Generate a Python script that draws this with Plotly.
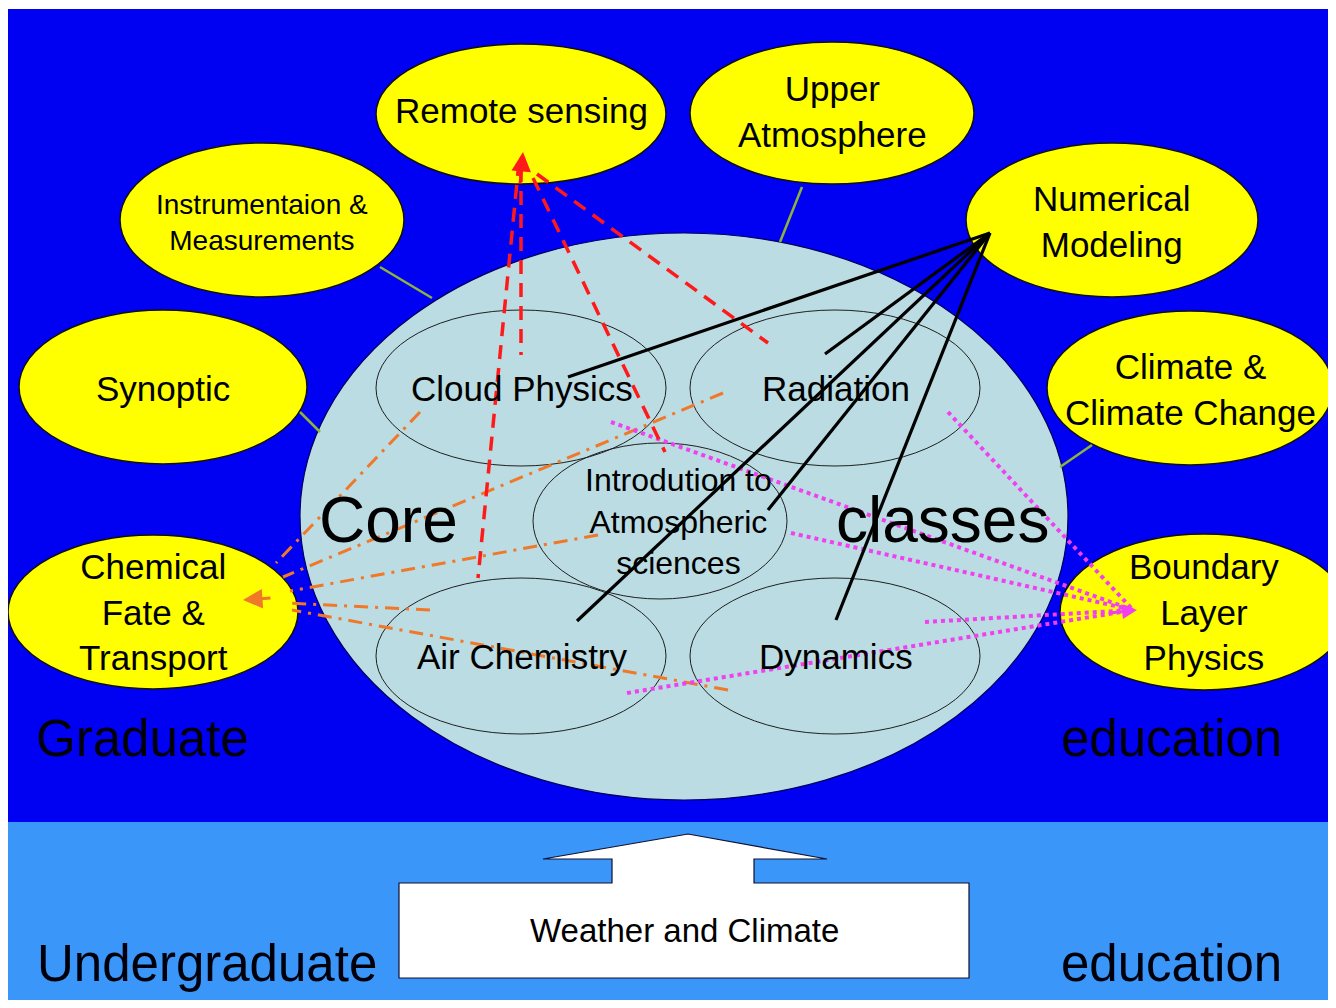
import plotly.graph_objects as go

# ---------------- data ----------------
outer_labels = ["Remote sensing", "Upper<br>Atmosphere", "Instrumentaion &<br>Measurements",
                "Numerical<br>Modeling", "Synoptic", "Climate &<br>Climate Change",
                "Chemical<br>Fate &<br>Transport", "Boundary<br>Layer<br>Physics"]
outer_cx = [521, 832, 262, 1112, 163, 1190, 153, 1204]
outer_cy = [114, 113, 220, 220, 387, 388, 612, 612]
outer_rx = [145, 142, 142, 146, 144, 143, 145, 144]
outer_ry = [70, 71, 77, 77, 77, 77, 77, 78]
outer_ty = [110, 111, 222, 221, 388, 389, 612, 612]
outer_fs = [35, 35, 28, 35, 35, 35, 35, 35]

inner_labels = ["Cloud Physics", "Radiation", "Introdution to<br>Atmospheric<br>sciences",
                "Air Chemistry", "Dynamics"]
inner_cx = [521, 835, 660, 521, 835]
inner_cy = [388, 388, 521, 656, 656]
inner_rx = [145, 145, 127, 145, 145]
inner_ry = [78, 78, 78, 78, 78]
inner_tx = [522, 836, 678, 522, 836]
inner_fs = [35, 35, 32, 35, 35]

# Numerical Modeling links (solid black)
black_x0, black_y0 = 990, 233
black_x1 = [568, 825, 768, 577, 836]
black_y1 = [377, 354, 510, 621, 620]

# Remote sensing links (red dashed)
red_x0 = [519, 521, 533, 537]
red_y0 = [162, 168, 178, 174]
red_x1 = [478, 521, 665, 768]
red_y1 = [578, 355, 452, 343]
red_tip = (523, 152)

# Chemical Fate & Transport links (orange dash-dot)
orange_x0 = [420, 723, 598, 430, 728]
orange_y0 = [412, 393, 535, 610, 690]
orange_x1 = [276, 283, 290, 288, 292]
orange_y1 = [563, 577, 591, 603, 610]
orange_tip = (243, 600)

# Boundary Layer links (magenta dotted)
mag_x0 = [611, 948, 791, 925, 627]
mag_y0 = [422, 412, 533, 622, 693]
mag_end = (1133, 610)

# green connectors
green_x0 = [380, 300, 802, 1092]
green_y0 = [267, 412, 187, 445]
green_x1 = [432, 320, 780, 1060]
green_y1 = [298, 432, 242, 467]

FONT = "Liberation Sans, Arial, sans-serif"

fig = go.Figure()
shapes = []
annotations = []

# backgrounds
shapes.append(dict(type="rect", x0=0, x1=1340, y0=9, y1=822, fillcolor="#0000F2",
                   line=dict(width=0), layer="below"))
shapes.append(dict(type="rect", x0=0, x1=1340, y0=822, y1=1012, fillcolor="#3A96F8",
                   line=dict(width=0), layer="below"))
# big core ellipse
shapes.append(dict(type="circle", x0=300, x1=1068, y0=233, y1=800, fillcolor="#BADCE2",
                   line=dict(color="#000060", width=1.2), layer="below"))
# outer yellow ellipses
for cx, cy, rx, ry in zip(outer_cx, outer_cy, outer_rx, outer_ry):
    shapes.append(dict(type="circle", x0=cx - rx, x1=cx + rx, y0=cy - ry, y1=cy + ry,
                       fillcolor="#FFFF00", line=dict(color="#101010", width=1.5), layer="below"))
# inner ellipses
for cx, cy, rx, ry in zip(inner_cx, inner_cy, inner_rx, inner_ry):
    shapes.append(dict(type="circle", x0=cx - rx, x1=cx + rx, y0=cy - ry, y1=cy + ry,
                       fillcolor="rgba(0,0,0,0)", line=dict(color="#202020", width=1), layer="below"))

# arrow: Weather and Climate
shapes.append(dict(type="path",
                   path="M 399 883 L 612 883 L 612 859 L 543 859 L 688 834 L 827 859 L 754 859 L 754 883 L 969 883 L 969 978 L 399 978 Z",
                   fillcolor="white", line=dict(color="#101030", width=1.2), layer="below"))


def seg_trace(xs0, ys0, xs1, ys1, color, width, dash):
    xs, ys = [], []
    for a, b, c, d in zip(xs0, ys0, xs1, ys1):
        xs += [a, c, None]
        ys += [b, d, None]
    return go.Scatter(x=xs, y=ys, mode="lines", hoverinfo="skip", showlegend=False,
                      line=dict(color=color, width=width, dash=dash))


fig.add_trace(seg_trace(green_x0, green_y0, green_x1, green_y1, "#8DB33A", 2.5, "solid"))
fig.add_trace(seg_trace(orange_x0, orange_y0, orange_x1, orange_y1, "#F07828", 3, "14px,7px,3px,7px"))
fig.add_trace(seg_trace(mag_x0, mag_y0, [mag_end[0]] * len(mag_x0), [mag_end[1]] * len(mag_x0),
                        "#F040F0", 4, "4px,4px"))
fig.add_trace(seg_trace(red_x0, red_y0, red_x1, red_y1, "#FF1A1A", 3.5, "14px,9px"))
fig.add_trace(seg_trace([black_x0] * len(black_x1), [black_y0] * len(black_x1), black_x1, black_y1,
                        "#000000", 3.2, "solid"))

# arrowheads
annotations.append(dict(x=red_tip[0], y=red_tip[1], ax=520, ay=185, xref="x", yref="y",
                        axref="x", ayref="y", text="", showarrow=True, arrowhead=2,
                        arrowsize=1.3, arrowwidth=3, arrowcolor="#FF1A1A"))
annotations.append(dict(x=orange_tip[0], y=orange_tip[1], ax=272, ay=598, xref="x", yref="y",
                        axref="x", ayref="y", text="", showarrow=True, arrowhead=2,
                        arrowsize=1.3, arrowwidth=3, arrowcolor="#F07828"))
annotations.append(dict(x=mag_end[0] + 4, y=mag_end[1], ax=1110, ay=613, xref="x", yref="y",
                        axref="x", ayref="y", text="", showarrow=True, arrowhead=2,
                        arrowsize=1, arrowwidth=3, arrowcolor="#F040F0"))

# labels
for lab, cx, ty, fs in zip(outer_labels, outer_cx, outer_ty, outer_fs):
    annotations.append(dict(x=cx, y=ty, xref="x", yref="y", text=lab, showarrow=False,
                            font=dict(family=FONT, size=fs, color="black")))
for lab, tx, cy, fs in zip(inner_labels, inner_tx, inner_cy, inner_fs):
    annotations.append(dict(x=tx, y=cy, xref="x", yref="y", text=lab, showarrow=False,
                            font=dict(family=FONT, size=fs, color="black")))

big_words = ["Core", "classes"]
big_x = [388, 942]
big_y = [520, 520]
for w, x, y in zip(big_words, big_x, big_y):
    annotations.append(dict(x=x, y=y, xref="x", yref="y", text=w, showarrow=False,
                            font=dict(family=FONT, size=64, color="black")))

side_words = ["Graduate", "education", "Undergraduate", "education"]
side_x = [142, 1171, 207, 1171]
side_y = [738, 738, 963, 963]
for w, x, y in zip(side_words, side_x, side_y):
    annotations.append(dict(x=x, y=y, xref="x", yref="y", text=w, showarrow=False,
                            font=dict(family=FONT, size=51, color="#00000A")))

annotations.append(dict(x=684, y=930, xref="x", yref="y", text="Weather and Climate",
                        showarrow=False, font=dict(family=FONT, size=33, color="black")))

# figure sized so that, with the page's 8px body margin, it fits the window
fig.update_layout(
    width=1328, height=992, margin=dict(l=0, r=0, t=0, b=0),
    paper_bgcolor="white", plot_bgcolor="white",
    xaxis=dict(range=[8, 1336], visible=False, fixedrange=True),
    yaxis=dict(range=[1000, 8], visible=False, fixedrange=True),
    shapes=shapes, annotations=annotations, showlegend=False,
)

fig.write_html("out.html")
